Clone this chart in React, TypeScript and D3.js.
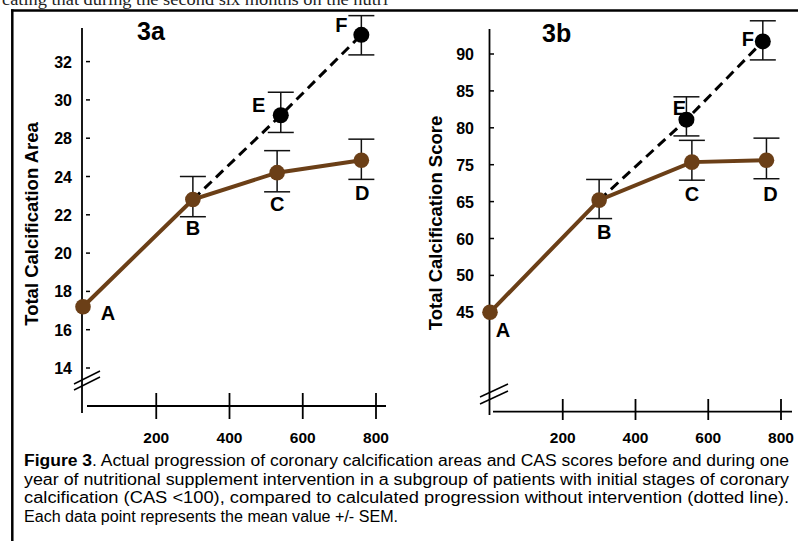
import React from "react";
import * as d3 from "d3";

// ---------- DATA ----------
const xTicks = [200, 400, 600, 800];

// Panel 3a : Total Calcification Area
const yTicksA = [14, 16, 18, 20, 22, 24, 28, 30, 32];
const daysA = [0, 300, 530, 760];
const actualA = [17.2, 22.8, 24.4, 25.7];
const actualAHi = [NaN, 24.0, 26.7, 27.9];
const actualALo = [NaN, 21.9, 23.2, 23.85];
const projDaysA = [540, 760];
const projA = [29.2, 33.4];
const projAHi = [30.4, 34.4];
const projALo = [28.3, 32.35];

// Panel 3b : Total Calcification Score
const yTicksB = [45, 50, 60, 65, 75, 80, 85, 90];
const daysB = [0, 300, 555, 760];
const actualB = [45, 65.4, 75.35, 75.6];
const actualBHi = [NaN, 71.0, 78.3, 78.6];
const actualBLo = [NaN, 62.7, 70.8, 71.2];
const projDaysB = [540, 750];
const projB = [81.1, 91.7];
const projBHi = [84.2, 94.5];
const projBLo = [78.9, 89.2];

const actualLabels = ["A", "B", "C", "D"];
const projLabels = ["E", "F"];

const captionLines = [
  "Actual progression of coronary calcification areas and CAS scores before and during one",
  "year of nutritional supplement intervention in a subgroup of patients with initial stages of coronary",
  "calcification (CAS <100), compared to calculated progression without intervention (dotted line).",
  "Each data point represents the mean value +/- SEM.",
];
const topText = "cating that during the second six months on the nutri";

// ---------- STYLE / LAYOUT ----------
const BROWN = "#6b3f17";
const FONT = "'Liberation Sans', Arial, Helvetica, sans-serif";

type Panel = {
  title: string;
  yTitle: string;
  yTicks: number[];
  days: number[];
  actual: number[];
  hi: number[];
  lo: number[];
  pDays: number[];
  proj: number[];
  pHi: number[];
  pLo: number[];
  L: any;
};

const panels: Panel[] = [
  {
    title: "3a",
    yTitle: "Total Calcification Area",
    yTicks: yTicksA,
    days: daysA,
    actual: actualA,
    hi: actualAHi,
    lo: actualALo,
    pDays: projDaysA,
    proj: projA,
    pHi: projAHi,
    pLo: projALo,
    L: {
      yAxisX: 82, yTop: 28, yBot: 413, y0: 368, step: 38.3,
      xRange: [83, 376], xAxisY: 406, xAxisX1: 87, xAxisX2: 386,
      tickTop: 393, tickBot: 419, tickLabelY: 443,
      labelRight: 72, dash: [86, 90],
      breaks: [[74, 384, 100, 371], [74, 390, 100, 377]],
      titleX: 137, titleY: 40, yTitleX: 38, yTitleY: 224,
      aOff: [[25, 13], [0, 36], [0, 38], [1, 40]],
      pOff: [[-22, -3], [-20, -3]],
    },
  },
  {
    title: "3b",
    yTitle: "Total Calcification Score",
    yTicks: yTicksB,
    days: daysB,
    actual: actualB,
    hi: actualBHi,
    lo: actualBLo,
    pDays: projDaysB,
    proj: projB,
    pHi: projBHi,
    pLo: projBLo,
    L: {
      yAxisX: 489.5, yTop: 29, yBot: 415, y0: 312.3, step: 36.9,
      xRange: [490, 781], xAxisY: 411.7, xAxisX1: 493, xAxisX2: 792,
      tickTop: 399, tickBot: 420, tickLabelY: 443,
      labelRight: 474, dash: [490, 494],
      breaks: [[480, 397, 508, 384], [480, 404, 508, 391]],
      titleX: 542, titleY: 42, yTitleX: 442, yTitleY: 223,
      aOff: [[13, 25], [5, 39], [0, 39], [4, 41]],
      pOff: [[-7, -5], [-15, 5]],
    },
  },
];

function PanelView({ p }: { p: Panel }) {
  const L = p.L;
  const x = d3.scaleLinear().domain([0, 800]).range(L.xRange);
  const y = d3
    .scaleLinear()
    .domain(p.yTicks)
    .range(p.yTicks.map((_, i) => L.y0 - i * L.step));

  const line = d3
    .line<number>()
    .x((_, i) => x(p.days[i]))
    .y((d) => y(d));
  const projPts: [number, number][] = [
    [x(p.days[1]), y(p.actual[1])],
    ...p.pDays.map((d, i) => [x(d), y(p.proj[i])] as [number, number]),
  ];
  const projLine = d3.line()(projPts) as string;

  const errBar = (cx: number, hiV: number, loV: number, key: string) => {
    if (isNaN(hiV)) return null;
    const t = y(hiV);
    const b = y(loV);
    return (
      <g key={key} stroke="#111" strokeWidth={1.5}>
        <line x1={cx} x2={cx} y1={t} y2={b} />
        <line x1={cx - 13} x2={cx + 13} y1={t} y2={t} />
        <line x1={cx - 13} x2={cx + 13} y1={b} y2={b} />
      </g>
    );
  };

  return (
    <g>
      {/* y axis */}
      <line x1={L.yAxisX} x2={L.yAxisX} y1={L.yTop} y2={L.yBot} stroke="#000" strokeWidth={1.8} />
      {p.yTicks.map((t) => (
        <g key={"yt" + t}>
          <line x1={L.dash[0]} x2={L.dash[1]} y1={y(t)} y2={y(t)} stroke="#000" strokeWidth={1.5} />
          <text x={L.labelRight} y={y(t) + 6} textAnchor="end" fontSize={16} fontWeight="bold" fontFamily={FONT}>
            {t}
          </text>
        </g>
      ))}
      {L.breaks.map((b: number[], i: number) => (
        <line key={"br" + i} x1={b[0]} y1={b[1]} x2={b[2]} y2={b[3]} stroke="#000" strokeWidth={1.5} />
      ))}
      {/* x axis */}
      <line x1={L.xAxisX1} x2={L.xAxisX2} y1={L.xAxisY} y2={L.xAxisY} stroke="#000" strokeWidth={1.8} />
      {xTicks.map((t) => (
        <g key={"xt" + t}>
          <line x1={x(t)} x2={x(t)} y1={L.tickTop} y2={L.tickBot} stroke="#000" strokeWidth={1.8} />
          <text x={x(t)} y={L.tickLabelY} textAnchor="middle" fontSize={15.5} fontWeight="bold" fontFamily={FONT}>
            {t}
          </text>
        </g>
      ))}
      {/* titles */}
      <text x={L.titleX} y={L.titleY} fontSize={25} fontWeight="bold" fontFamily={FONT}>
        {p.title}
      </text>
      <text
        transform={`translate(${L.yTitleX},${L.yTitleY}) rotate(-90)`}
        textAnchor="middle"
        fontSize={18.5}
        fontWeight="bold"
        fontFamily={FONT}
      >
        {p.yTitle}
      </text>
      {/* error bars */}
      {p.days.map((d, i) => errBar(x(d), p.hi[i], p.lo[i], "ea" + i))}
      {p.pDays.map((d, i) => errBar(x(d), p.pHi[i], p.pLo[i], "ep" + i))}
      {/* lines */}
      <path d={projLine} fill="none" stroke="#000" strokeWidth={3} strokeDasharray="10,6" />
      <path d={line(p.actual) as string} fill="none" stroke={BROWN} strokeWidth={4} />
      {/* markers */}
      {p.pDays.map((d, i) => (
        <circle key={"pm" + i} cx={x(d)} cy={y(p.proj[i])} r={8} fill="#000" />
      ))}
      {p.days.map((d, i) => (
        <circle key={"am" + i} cx={x(d)} cy={y(p.actual[i])} r={7.8} fill={BROWN} />
      ))}
      {/* point labels */}
      {p.days.map((d, i) => (
        <text
          key={"al" + i}
          x={x(d) + L.aOff[i][0]}
          y={y(p.actual[i]) + L.aOff[i][1]}
          textAnchor="middle"
          fontSize={20}
          fontWeight="bold"
          fontFamily={FONT}
        >
          {actualLabels[i]}
        </text>
      ))}
      {p.pDays.map((d, i) => (
        <text
          key={"pl" + i}
          x={x(d) + L.pOff[i][0]}
          y={y(p.proj[i]) + L.pOff[i][1]}
          textAnchor="middle"
          fontSize={20}
          fontWeight="bold"
          fontFamily={FONT}
        >
          {projLabels[i]}
        </text>
      ))}
    </g>
  );
}

export default function App() {
  return (
    <svg
      width={798}
      height={541}
      style={{ position: "absolute", left: 0, top: 0, background: "#fff" }}
    >
      <rect x={0} y={0} width={798} height={541} fill="#fff" />
      <text x={2} y={4.5} fontSize={16} fontFamily="'Liberation Serif', 'DejaVu Serif', serif" fill="#222" textLength={386} lengthAdjust="spacingAndGlyphs">
        {topText}
      </text>
      {/* frame */}
      <line x1={11} x2={798} y1={10.5} y2={10.5} stroke="#000" strokeWidth={2.5} />
      <line x1={12.3} x2={12.3} y1={9.3} y2={541} stroke="#000" strokeWidth={2.5} />
      {panels.map((p) => (
        <PanelView key={p.title} p={p} />
      ))}
      {/* caption */}
      <text x={24} y={466} fontSize={16} fontFamily={FONT} textLength={765} lengthAdjust="spacingAndGlyphs">
        <tspan fontWeight="bold">Figure 3</tspan>. {captionLines[0]}
      </text>
      <text x={24} y={484.5} fontSize={16} fontFamily={FONT} textLength={765} lengthAdjust="spacingAndGlyphs">
        {captionLines[1]}
      </text>
      <text x={24} y={503} fontSize={16} fontFamily={FONT} textLength={765} lengthAdjust="spacingAndGlyphs">
        {captionLines[2]}
      </text>
      <text x={24} y={521.5} fontSize={16} fontFamily={FONT} textLength={374} lengthAdjust="spacingAndGlyphs">
        {captionLines[3]}
      </text>
    </svg>
  );
}
